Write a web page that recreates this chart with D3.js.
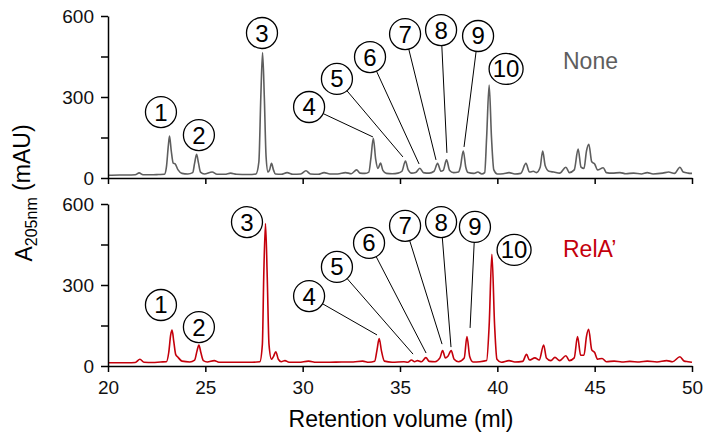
<!DOCTYPE html>
<html>
<head>
<meta charset="utf-8">
<script src="https://cdn.jsdelivr.net/npm/d3@7"></script>
<style>
  html, body { margin: 0; padding: 0; background: #fff; }
  svg { display: block; font-family: "Liberation Sans", Arial, sans-serif; }
</style>
</head>
<body>
<div id="chart"></div>
<script>
// ---- Data ----
// [retention volume (ml), A205nm (mAU)]
const noneTrace = [
  [20.0,10],[20.6,11],[21.0,11],[21.4,12],[21.6,19],[21.8,12],[22.2,12],[22.6,13],[22.9,14],
  [23.0,40],[23.1,120],[23.16,155],[23.25,100],[23.35,55],[23.45,52],[23.6,30],[23.8,17],
  [24.1,15],[24.35,20],[24.45,55],[24.55,88],[24.65,55],[24.75,22],[24.95,15],[25.35,22],
  [25.6,14],[26.0,14],[26.3,18],[26.6,14],[27.2,13],[27.6,15],[27.75,60],[27.85,300],
  [27.94,465],[28.03,300],[28.12,80],[28.22,22],[28.3,30],[28.4,54],[28.5,30],[28.6,15],
  [28.9,14],[29.2,20],[29.5,14],[29.9,15],[30.17,27],[30.4,15],[30.8,14],[31.1,20],[31.4,15],
  [31.8,15],[32.2,20],[32.5,16],[32.77,30],[32.95,18],[33.2,17],[33.4,22],[33.5,70],
  [33.63,147],[33.75,70],[33.87,35],[34.0,55],[34.12,28],[34.3,17],[34.6,16],[34.9,18],
  [35.1,25],[35.28,63],[35.42,30],[35.6,18],[35.8,20],[36.02,36],[36.2,20],[36.5,18],
  [36.75,25],[36.93,54],[37.1,25],[37.22,28],[37.39,67],[37.55,28],[37.75,20],[38.0,22],
  [38.1,40],[38.25,100],[38.38,40],[38.5,20],[38.8,17],[39.0,22],[39.2,15],[39.35,20],
  [39.45,150],[39.58,344],[39.7,150],[39.82,30],[40.0,15],[40.3,16],[40.6,20],[40.9,15],
  [41.2,17],[41.47,54],[41.65,22],[41.85,25],[42.0,20],[42.2,40],[42.33,100],[42.46,45],
  [42.65,25],[42.9,22],[43.2,18],[43.52,40],[43.7,20],[43.95,30],[44.15,107],[44.3,40],
  [44.45,35],[44.58,100],[44.7,125],[44.85,60],[45.0,52],[45.15,30],[45.44,38],[45.6,20],
  [45.9,18],[46.3,20],[46.6,16],[47.0,18],[47.4,15],[47.7,20],[48.0,15],[48.5,18],[48.8,22],
  [49.1,17],[49.38,40],[49.55,22],[49.8,18],[50.0,17]
];

const relATrace = [
  [20.0,12],[20.5,12],[21.0,12],[21.4,13],[21.64,25],[21.85,14],[22.3,13],[22.7,15],[23.0,16],
  [23.12,50],[23.22,115],[23.29,133],[23.38,90],[23.48,42],[23.6,32],[23.8,18],[24.2,15],
  [24.45,22],[24.57,55],[24.67,78],[24.77,50],[24.9,20],[25.1,15],[25.46,20],[25.7,14],
  [26.2,14],[26.8,14],[27.4,14],[27.8,16],[27.93,80],[28.0,330],[28.09,528],[28.18,330],
  [28.27,80],[28.4,25],[28.5,35],[28.62,53],[28.75,25],[28.9,16],[29.09,20],[29.3,14],
  [29.8,14],[30.3,18],[30.7,14],[31.4,14],[32.0,15],[32.6,15],[33.08,18],[33.4,14],[33.7,18],
  [33.82,60],[33.93,102],[34.05,55],[34.2,18],[34.6,14],[35.2,16],[35.4,14],[35.59,22],
  [35.75,16],[35.9,20],[36.1,16],[36.33,31],[36.5,17],[36.8,16],[37.05,30],[37.19,57],
  [37.33,30],[37.45,35],[37.63,57],[37.78,25],[38.0,16],[38.3,30],[38.44,109],[38.58,35],
  [38.75,15],[39.1,16],[39.45,20],[39.58,150],[39.72,414],[39.86,150],[39.98,25],[40.2,14],
  [40.6,20],[40.9,15],[41.3,17],[41.5,43],[41.65,22],[41.93,30],[42.15,22],[42.38,78],
  [42.52,30],[42.75,20],[42.96,32],[43.2,20],[43.52,38],[43.7,20],[43.95,30],[44.12,109],
  [44.28,40],[44.45,40],[44.58,110],[44.69,136],[44.85,60],[45.0,50],[45.15,25],[45.38,28],
  [45.6,16],[46.0,18],[46.4,15],[46.8,17],[47.3,15],[47.7,18],[48.2,15],[48.7,20],[49.0,16],
  [49.38,34],[49.6,18],[49.8,16],[50.0,14]
];

// peak labels: label, circle position [ml, mAU], leader end [ml, mAU] or null
const noneLabels = [
  ["1", [22.72, 244], null], ["2", [24.67, 159], null], ["3", [27.91, 537], null],
  ["4", [30.33, 263], [33.61, 152]], ["5", [31.76, 367], [35.15, 78]],
  ["6", [33.46, 448], [35.98, 52]], ["7", [35.26, 533], [36.85, 67]],
  ["8", [37.11, 548], [37.41, 93]], ["9", [39.01, 526], [38.29, 115]],
  ["10", [40.45, 404], null]
];
const relALabels = [
  ["1", [22.72, 226], null], ["2", [24.67, 144], null], ["3", [27.14, 533], null],
  ["4", [30.33, 259], [33.82, 115]], ["5", [31.76, 367], [35.67, 44]],
  ["6", [33.41, 456], [36.34, 48]], ["7", [35.26, 519], [37.16, 81]],
  ["8", [37.11, 533], [37.62, 70]], ["9", [38.85, 515], [38.60, 141]],
  ["10", [40.86, 430], null]
];

const xTicks = [20, 25, 30, 35, 40, 45, 50];
const yTicks = [0, 150, 300, 450, 600];
const yLabelTicks = [0, 300, 600];

const panels = [
  { name: "None", trace: noneTrace, labels: noneLabels, color: "#5e5e5e", top: 16, bottom: 178, tickLabels: false, tagPos: [48.2, 420] },
  { name: "RelA\u2019", trace: relATrace, labels: relALabels, color: "#c4000b", top: 204, bottom: 366, tickLabels: true, tagPos: [48.2, 410] }
];

// ---- Layout ----
const W = 706, H = 438;
const svg = d3.select("#chart").append("svg").attr("width", W).attr("height", H);

const x = d3.scaleLinear().domain([20, 50]).range([108, 692]);

panels.forEach(p => {
  const y = d3.scaleLinear().domain([0, 600]).range([p.bottom, p.top]);
  const g = svg.append("g");

  // trace
  const line = d3.line().x(d => x(d[0])).y(d => y(d[1])).curve(d3.curveMonotoneX);
  g.append("path").datum(p.trace)
    .attr("fill", "none").attr("stroke", p.color).attr("stroke-width", 1.6)
    .attr("stroke-linejoin", "round")
    .attr("d", line);

  // x axis
  const xa = g.append("g").attr("transform", `translate(0,${p.bottom})`)
    .call(d3.axisBottom(x).tickValues(xTicks).tickSize(6).tickSizeOuter(0).tickPadding(9)
      .tickFormat(p.tickLabels ? d3.format("d") : () => ""));
  // y axis
  const ya = g.append("g").attr("transform", `translate(108,0)`)
    .call(d3.axisLeft(y).tickValues(yTicks).tickSize(7).tickSizeOuter(0).tickPadding(7)
      .tickFormat(v => yLabelTicks.includes(v) ? v : ""));
  [xa, ya].forEach(a => {
    a.selectAll("path, line").attr("stroke", "#000").attr("stroke-width", 1.5);
    a.selectAll("text").attr("fill", "#111").attr("font-size", 19)
      .attr("font-family", "'Liberation Sans', Arial, sans-serif");
  });

  // leaders
  p.labels.forEach(([lab, c, end]) => {
    if (!end) return;
    const cx = x(c[0]), cy = y(c[1]), ex = x(end[0]), ey = y(end[1]);
    const len = Math.hypot(ex - cx, ey - cy);
    const r = 15;
    g.append("line")
      .attr("x1", cx + (ex - cx) / len * r).attr("y1", cy + (ey - cy) / len * r)
      .attr("x2", ex).attr("y2", ey)
      .attr("stroke", "#000").attr("stroke-width", 1);
  });

  // circled numbers
  p.labels.forEach(([lab, c]) => {
    const cx = x(c[0]), cy = y(c[1]);
    g.append("ellipse")
      .attr("cx", cx).attr("cy", cy)
      .attr("rx", lab.length > 1 ? 17 : 15.5).attr("ry", 15.5)
      .attr("fill", "#fff").attr("stroke", "#000").attr("stroke-width", 1.3);
    g.append("text")
      .attr("x", cx).attr("y", cy + 8.5)
      .attr("text-anchor", "middle")
      .attr("font-size", 24).attr("fill", "#000")
      .text(lab);
  });

  // sample tag
  g.append("text")
    .attr("x", 563).attr("y", p.top + 53)
    .attr("font-size", 23).attr("fill", p.color)
    .text(p.name);
});

// axis titles
svg.append("text")
  .attr("x", 401).attr("y", 427)
  .attr("text-anchor", "middle")
  .attr("font-size", 23).attr("fill", "#000")
  .text("Retention volume (ml)");

const yt = svg.append("text")
  .attr("transform", "translate(32,193) rotate(-90)")
  .attr("text-anchor", "middle")
  .attr("font-size", 23).attr("fill", "#000");
yt.append("tspan").text("A");
yt.append("tspan").attr("dy", "0.32em").attr("font-size", 16).text("205nm");
yt.append("tspan").attr("dy", "-0.32em").text(" (mAU)");
</script>
</body>
</html>
